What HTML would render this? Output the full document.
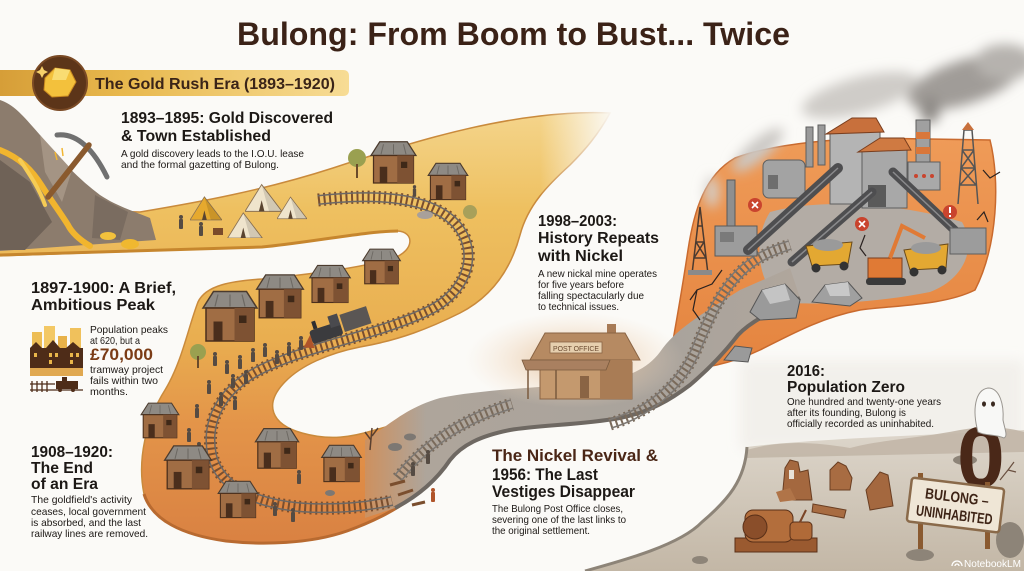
<!DOCTYPE html>
<html><head><meta charset="utf-8"><style>
html,body{margin:0;padding:0;background:#fbfaf7;}
svg{display:block;}
text{font-family:"Liberation Sans",sans-serif;}
</style></head><body>
<svg width="1024" height="571" viewBox="0 0 1024 571" xmlns="http://www.w3.org/2000/svg">
<defs>
<linearGradient id="gRib" gradientUnits="userSpaceOnUse" x1="0" y1="115" x2="0" y2="545">
<stop offset="0" stop-color="#f4d48a"/><stop offset="0.22" stop-color="#eec060"/><stop offset="0.52" stop-color="#e9ae50"/><stop offset="0.72" stop-color="#e39449"/><stop offset="1" stop-color="#d98142"/></linearGradient>
<linearGradient id="gFade" x1="0" y1="0" x2="1" y2="0"><stop offset="0" stop-color="#fbfaf7" stop-opacity="0"/><stop offset="1" stop-color="#fbfaf7" stop-opacity="1"/></linearGradient>
<linearGradient id="gGray" gradientUnits="userSpaceOnUse" x1="360" y1="0" x2="800" y2="0"><stop offset="0" stop-color="#d08f5a"/><stop offset="0.15" stop-color="#aea59b"/><stop offset="0.7" stop-color="#a9a39c"/><stop offset="1" stop-color="#b0a69c"/></linearGradient>
<linearGradient id="gPlat" x1="0" y1="0" x2="0" y2="1"><stop offset="0" stop-color="#ef9b58"/><stop offset="1" stop-color="#e4843f"/></linearGradient>
<linearGradient id="gWaste" gradientUnits="userSpaceOnUse" x1="0" y1="430" x2="0" y2="571"><stop offset="0" stop-color="#ddd6cb"/><stop offset="1" stop-color="#c3b7a6"/></linearGradient>
<linearGradient id="gBan" x1="0" y1="0" x2="1" y2="0"><stop offset="0" stop-color="#d69e38"/><stop offset="0.35" stop-color="#e8b84d"/><stop offset="1" stop-color="#f7dc95"/></linearGradient>
<radialGradient id="gHaze"><stop offset="0" stop-color="#e2b98e" stop-opacity="0.9"/><stop offset="1" stop-color="#f3dcc4" stop-opacity="0"/></radialGradient>
<filter id="blur6" x="-50%" y="-50%" width="200%" height="200%"><feGaussianBlur stdDeviation="6"/></filter>
<filter id="blur3" x="-50%" y="-50%" width="200%" height="200%"><feGaussianBlur stdDeviation="3"/></filter>
<symbol id="house" viewBox="0 0 40 40">
<polygon points="2,14 9,3 31,3 38,14" fill="#8e8a84" stroke="#4b3b2e" stroke-width="1"/>
<line x1="12" y1="5" x2="10" y2="13" stroke="#6c6862" stroke-width="0.8"/><line x1="20" y1="5" x2="20" y2="13" stroke="#6c6862" stroke-width="0.8"/><line x1="28" y1="5" x2="30" y2="13" stroke="#6c6862" stroke-width="0.8"/>
<rect x="4" y="14" width="32" height="22" fill="#a06d44" stroke="#4b2f1c"/>
<rect x="23" y="14" width="13" height="22" fill="#7e5233"/>
<rect x="9" y="23" width="6" height="13" fill="#4a2e1c"/>
<rect x="26" y="19" width="5" height="5" fill="#3e2818"/>
</symbol>
<symbol id="tent" viewBox="0 0 40 30">
<polygon points="0,30 18,1 40,30" fill="currentColor" stroke="#8c7355" stroke-width="1"/>
<polygon points="18,1 40,30 26,30" fill="#000" fill-opacity="0.12"/>
<polygon points="15,30 18,18 21,30" fill="#5a4430"/>
</symbol>
<symbol id="per" viewBox="0 0 6 14"><circle cx="3" cy="2" r="2"/><rect x="1" y="4" width="4" height="10" rx="1"/></symbol>
<path id="r1" d="M 318,200 C 380,193 432,198 456,224 C 480,252 468,292 428,311 C 380,334 318,344 268,366 C 222,386 205,420 212,455 C 220,490 262,506 312,508 C 345,509 370,506 392,501"/>
<path id="r2" d="M 398,478 C 425,445 460,420 512,404"/>
<path id="r3" d="M 610,424 C 650,412 680,385 695,352 C 708,320 720,290 745,268 C 760,255 775,250 790,245"/>
<mask id="m1" maskUnits="userSpaceOnUse" x="0" y="0" width="1024" height="571"><rect width="1024" height="571" fill="#000"/><use href="#r1" fill="none" stroke="#fff" stroke-width="10"/><use href="#r1" fill="none" stroke="#000" stroke-width="7"/></mask>
<mask id="m2" maskUnits="userSpaceOnUse" x="0" y="0" width="1024" height="571"><rect width="1024" height="571" fill="#000"/><use href="#r2" fill="none" stroke="#fff" stroke-width="10"/><use href="#r2" fill="none" stroke="#000" stroke-width="7"/></mask>
<mask id="m3" maskUnits="userSpaceOnUse" x="0" y="0" width="1024" height="571"><rect width="1024" height="571" fill="#000"/><use href="#r3" fill="none" stroke="#fff" stroke-width="10"/><use href="#r3" fill="none" stroke="#000" stroke-width="7"/></mask>
</defs>

<rect width="1024" height="571" fill="#fbfaf7"/>

<!-- Title -->
<text x="237" y="45" font-size="32" font-weight="bold" fill="#3b2217" textLength="553" lengthAdjust="spacingAndGlyphs">Bulong: From Boom to Bust... Twice</text>

<!-- wasteland background haze -->
<rect x="740" y="360" width="284" height="90" fill="#efece7" filter="url(#blur6)" opacity="0.7"/>

<!-- Ribbon gold/orange -->
<path d="M -5,208 L 140,212 C 200,202 265,190 333,168 C 400,146 470,124 540,116 C 565,113 590,112 610,113 C 598,135 585,150 570,165 C 548,185 528,205 520,235 C 512,265 495,295 460,313 C 430,328 400,340 360,347 C 330,353 300,365 283,384 C 265,404 270,424 302,433 C 330,441 352,437 375,430 L 400,423 L 425,488 C 398,510 372,522 347,531 C 310,544 262,545 226,541 C 182,535 152,520 144,494 C 137,460 146,420 165,390 C 182,362 188,328 198,302 C 206,285 232,281 262,279 C 312,274 360,268 394,258 C 415,250 414,232 398,231 C 368,231 305,243 262,247 L -5,256 Z" fill="url(#gRib)" stroke="#c98a3c" stroke-width="1.5"/>
<path d="M 0,255 L 262,247 C 305,243 368,231 398,231" fill="none" stroke="#c6862e" stroke-width="3"/>
<path d="M 144,494 C 152,520 182,535 226,541 C 262,545 310,544 347,531 C 372,522 398,510 425,488" fill="none" stroke="#b86a30" stroke-width="3"/>
<rect x="540" y="100" width="75" height="110" fill="url(#gFade)"/>

<!-- Plateau -->
<path d="M 668,368 C 675,330 682,290 688,250 C 694,210 705,175 735,158 C 770,145 820,140 870,138 L 990,140 C 1000,180 998,245 975,290 C 945,305 900,305 860,310 C 820,318 790,335 760,350 C 735,362 700,372 668,368 Z" fill="url(#gPlat)" stroke="#c96a2e" stroke-width="1.5"/>
<path d="M 770,212 C 820,198 900,203 962,222 C 978,250 962,280 930,292 C 880,302 820,306 780,302 C 758,282 752,240 770,212 Z" fill="#b3aca5"/>

<!-- Gray ribbon -->
<path d="M 365,440 C 390,425 405,408 440,398 C 480,390 530,388 580,384 C 620,381 645,372 660,352 C 675,330 700,315 740,290 L 790,268 L 800,298 C 770,312 750,322 738,335 C 725,352 710,368 690,385 C 670,400 650,412 620,418 C 580,425 540,425 510,430 C 480,436 462,445 450,460 C 438,478 420,495 395,508 L 365,518 Z" fill="url(#gGray)"/>
<path d="M 800,298 C 770,312 750,322 738,335 C 725,352 710,368 690,385 C 670,400 650,412 620,418 C 580,425 540,425 510,430 C 480,436 462,445 450,460 C 438,478 420,495 395,508" fill="none" stroke="#6e6862" stroke-width="4"/>

<!-- Post office haze & building -->
<ellipse cx="575" cy="360" rx="110" ry="48" fill="url(#gHaze)"/>
<g>
<rect x="607" y="324" width="9" height="12" fill="#a77a55"/>
<polygon points="530,360 545,333 625,333 640,360" fill="#b68a62" stroke="#8a6444" stroke-width="1"/>
<rect x="550" y="342" width="52" height="11" fill="#e6cfae" stroke="#8a6444" stroke-width="0.8"/>
<text x="553" y="351" font-size="7.5" fill="#6a4a30" textLength="46" lengthAdjust="spacingAndGlyphs">POST OFFICE</text>
<rect x="540" y="362" width="92" height="37" fill="#c4996e" stroke="#8a6444" stroke-width="1"/>
<rect x="600" y="360" width="32" height="39" fill="#a97c55"/>
<polygon points="522,360 610,360 606,370 526,370" fill="#a98060" stroke="#7a5a3e" stroke-width="0.8"/>
<rect x="580" y="376" width="9" height="22" fill="#8a6444"/>
<line x1="528" y1="370" x2="528" y2="399" stroke="#7a5a3e" stroke-width="1.5"/>
<line x1="556" y1="370" x2="556" y2="399" stroke="#7a5a3e" stroke-width="1.5"/>
</g>

<!-- Rails -->
<use href="#r1" fill="none" stroke="#7a4e2e" stroke-width="13" stroke-dasharray="2 3.5"/>
<rect width="1024" height="571" fill="#6c6865" mask="url(#m1)"/>
<use href="#r2" fill="none" stroke="#7a6a5a" stroke-width="13" stroke-dasharray="2 3.5"/>
<rect width="1024" height="571" fill="#7d7873" mask="url(#m2)"/>
<use href="#r3" fill="none" stroke="#7a6a5a" stroke-width="13" stroke-dasharray="2 3.5"/>
<rect width="1024" height="571" fill="#7d7873" mask="url(#m3)"/>

<!-- Mountain -->
<path d="M 0,100 C 15,105 25,118 40,135 C 60,160 80,180 100,195 C 115,205 130,210 150,218 L 156,240 L 0,251 Z" fill="#8c7c6d"/>
<polygon points="0,160 30,182 52,222 25,250 0,250" fill="#6f6257"/>
<polygon points="40,135 72,170 62,202 45,172" fill="#a49484"/>
<polygon points="95,195 128,212 120,240 92,238" fill="#7a6c60"/>
<path d="M 0,150 C 20,158 32,170 42,186 C 52,202 60,212 68,225 C 72,233 80,240 90,246" fill="none" stroke="#f1b52e" stroke-width="6" stroke-linecap="round"/>
<path d="M 20,160 C 30,175 40,190 45,205" fill="none" stroke="#f6cc55" stroke-width="4" stroke-linecap="round"/>
<ellipse cx="108" cy="236" rx="8" ry="4" fill="#f2c13c"/>
<ellipse cx="130" cy="244" rx="9" ry="5" fill="#f0b830"/>
<path d="M 57,135 Q 85,132 107,177" fill="none" stroke="#707070" stroke-width="5" stroke-linecap="round"/>
<line x1="48" y1="197" x2="89" y2="145" stroke="#8a5a2e" stroke-width="5.5" stroke-linecap="round"/>
<line x1="55" y1="152" x2="57" y2="160" stroke="#f2b632" stroke-width="1.5"/><line x1="62" y1="148" x2="63" y2="156" stroke="#f2b632" stroke-width="1.5"/>

<!-- Upper band village -->
<g color="#e6a92e"><use href="#tent" x="190" y="193" width="32" height="30"/></g>
<g color="#efe4cc"><use href="#tent" x="245" y="183" width="37" height="29"/><use href="#tent" x="227" y="212" width="36" height="26"/><use href="#tent" x="277" y="195" width="30" height="25"/></g>
<rect x="213" y="228" width="10" height="7" fill="#7a4a2a"/>
<circle cx="357" cy="158" r="9" fill="#9aa050"/><rect x="356" y="164" width="2" height="14" fill="#6a4a2a"/>
<use href="#house" x="367" y="138" width="53" height="50"/>
<use href="#house" x="423" y="160" width="50" height="44"/>
<g fill="#554b43"><use href="#per" x="178" y="215" width="6" height="14"/><use href="#per" x="198" y="222" width="6" height="14"/><use href="#per" x="412" y="185" width="5" height="12"/></g>
<circle cx="470" cy="212" r="7" fill="#a8a05a"/>
<ellipse cx="425" cy="215" rx="8" ry="4" fill="#a8a09a"/>

<!-- Middle band village -->
<use href="#house" x="200" y="286" width="60" height="62"/>
<use href="#house" x="252" y="271" width="56" height="52"/>
<use href="#house" x="307" y="262" width="46" height="45"/>
<use href="#house" x="359" y="246" width="45" height="42"/>
<circle cx="198" cy="352" r="8" fill="#9aa050"/><rect x="197" y="356" width="2" height="12" fill="#6a4a2a"/>
<!-- train -->
<g transform="rotate(-18 338 330)">
<rect x="310" y="322" width="32" height="14" rx="3" fill="#3b3b3e"/>
<rect x="332" y="314" width="10" height="12" fill="#4a4a4e"/>
<rect x="344" y="316" width="28" height="18" fill="#5a5654"/>
<rect x="315" y="314" width="4" height="8" fill="#2e2e30"/>
<polygon points="300,336 310,326 310,340" fill="#b0542a"/>
</g>
<g fill="#554b43">
<use href="#per" x="212" y="352" width="6" height="14"/><use href="#per" x="224" y="360" width="6" height="14"/><use href="#per" x="237" y="355" width="6" height="14"/><use href="#per" x="250" y="348" width="6" height="14"/><use href="#per" x="262" y="343" width="6" height="14"/><use href="#per" x="274" y="350" width="6" height="14"/><use href="#per" x="286" y="342" width="6" height="14"/><use href="#per" x="298" y="336" width="6" height="14"/>
<use href="#per" x="230" y="374" width="6" height="14"/><use href="#per" x="243" y="370" width="6" height="14"/><use href="#per" x="206" y="380" width="6" height="14"/><use href="#per" x="218" y="392" width="6" height="14"/><use href="#per" x="232" y="396" width="6" height="14"/>
<use href="#per" x="194" y="404" width="6" height="14"/><use href="#per" x="186" y="428" width="6" height="14"/><use href="#per" x="196" y="442" width="6" height="14"/><use href="#per" x="188" y="462" width="6" height="14"/>
<use href="#per" x="272" y="502" width="6" height="14"/><use href="#per" x="290" y="508" width="6" height="14"/><use href="#per" x="296" y="470" width="6" height="14"/>
<use href="#per" x="410" y="462" width="6" height="14"/><use href="#per" x="425" y="450" width="6" height="14"/>
</g>
<use href="#per" x="430" y="488" width="6" height="14" fill="#b0542a"/>
<!-- bottom-left houses -->
<use href="#house" x="139" y="395" width="42" height="52"/>
<use href="#house" x="162" y="442" width="52" height="52"/>
<use href="#house" x="213" y="478" width="50" height="44"/>
<use href="#house" x="253" y="424" width="48" height="50"/>
<use href="#house" x="319" y="442" width="45" height="44"/>
<path d="M 370,450 L 372,428 M 372,436 L 378,428 M 371,440 L 365,432" stroke="#5a4030" stroke-width="1.5" fill="none"/>
<g fill="#7d7873"><ellipse cx="395" cy="447" rx="7" ry="4"/><ellipse cx="410" cy="437" rx="6" ry="3.5"/><ellipse cx="330" cy="493" rx="5" ry="3"/></g>
<g stroke="#7a4e2e" stroke-width="3"><line x1="390" y1="485" x2="405" y2="481"/><line x1="398" y1="495" x2="413" y2="490"/><line x1="412" y1="505" x2="425" y2="502"/></g>

<!-- Smoke -->
<g filter="url(#blur6)">
<ellipse cx="860" cy="95" rx="60" ry="18" transform="rotate(-15 860 95)" fill="#cfccc8"/>
<ellipse cx="965" cy="82" rx="60" ry="22" transform="rotate(-18 965 82)" fill="#a09c98"/>
<ellipse cx="1005" cy="62" rx="30" ry="18" fill="#b6b2ae"/>
<ellipse cx="758" cy="150" rx="32" ry="10" transform="rotate(-40 758 150)" fill="#cbc8c4"/>
<ellipse cx="712" cy="192" rx="7" ry="16" fill="#d3d0cc"/>
<ellipse cx="930" cy="110" rx="10" ry="14" fill="#8e8a86"/>
</g>

<!-- Industrial -->
<g>
<!-- derrick -->
<g stroke="#4a3a30" stroke-width="1.5" fill="none"><path d="M 692,274 L 700,207 L 708,274 M 694,258 L 706,258 M 696,242 L 704,242 M 698,226 L 702,226 M 694,258 L 704,242 M 706,258 L 696,242"/></g>
<rect x="688" y="270" width="24" height="5" fill="#8a8a8a"/>
<!-- left machine -->
<rect x="727" y="180" width="8" height="50" fill="#8f8f8f" stroke="#5a5a5a"/>
<rect x="715" y="226" width="42" height="30" fill="#9c9c9c" stroke="#5a5a5a"/>
<rect x="720" y="232" width="14" height="10" fill="#7a7a7a"/>
<!-- left gray building -->
<rect x="763" y="160" width="42" height="38" rx="6" fill="#a3a3a3" stroke="#5e5e5e"/>
<rect x="768" y="175" width="10" height="14" fill="#6e6e6e"/>
<rect x="806" y="127" width="7" height="40" fill="#9a9a9a" stroke="#5e5e5e"/>
<rect x="818" y="125" width="7" height="40" fill="#9a9a9a" stroke="#5e5e5e"/>
<!-- main building -->
<rect x="830" y="132" width="50" height="72" fill="#b4b4b4" stroke="#5e5e5e"/>
<polygon points="826,134 852,118 876,118 884,132" fill="#c8703c" stroke="#7a3e1e"/>
<rect x="862" y="150" width="45" height="58" fill="#a8a8a8" stroke="#5e5e5e"/>
<polygon points="858,152 880,138 904,138 911,150" fill="#cf7a42" stroke="#7a3e1e"/>
<rect x="868" y="185" width="18" height="22" fill="#5a5a5a"/>
<!-- orange striped chimney -->
<rect x="916" y="120" width="14" height="48" fill="#a0a0a0" stroke="#5e5e5e"/>
<rect x="916" y="132" width="14" height="7" fill="#d9773a"/><rect x="916" y="147" width="14" height="7" fill="#d9773a"/>
<rect x="908" y="162" width="32" height="28" fill="#a9a9a9" stroke="#5e5e5e"/>
<circle cx="916" cy="176" r="2" fill="#c9442e"/><circle cx="924" cy="176" r="2" fill="#c9442e"/><circle cx="932" cy="176" r="2" fill="#c9442e"/>
<!-- tower -->
<g stroke="#555" stroke-width="1.5" fill="none"><path d="M 958,204 L 964,130 L 972,130 L 978,204 M 960,185 L 976,185 M 961,168 L 975,168 M 962,150 L 974,150 M 960,185 L 975,168 M 976,185 L 961,168 M 961,168 L 974,150 M 975,168 L 962,150"/></g>
<polygon points="962,130 968,122 974,130" fill="#c8703c"/>
<!-- conveyors -->
<g stroke="#4e4e50" stroke-linecap="round"><line x1="748" y1="250" x2="838" y2="168" stroke-width="10"/><line x1="792" y1="262" x2="872" y2="192" stroke-width="9"/><line x1="893" y1="172" x2="965" y2="240" stroke-width="9"/></g>
<g stroke="#8a8a8c" stroke-width="1.5"><line x1="748" y1="250" x2="838" y2="168"/><line x1="792" y1="262" x2="872" y2="192"/><line x1="893" y1="172" x2="965" y2="240"/></g>
<rect x="950" y="228" width="36" height="26" fill="#9c9c9c" stroke="#5e5e5e"/>
<!-- trucks -->
<polygon points="806,246 852,242 848,264 812,266" fill="#e3a832" stroke="#6a4a1a"/>
<ellipse cx="828" cy="245" rx="15" ry="6" fill="#9a9a9a"/>
<circle cx="816" cy="268" r="4.5" fill="#333"/><circle cx="844" cy="266" r="4.5" fill="#333"/>
<polygon points="904,250 948,244 946,268 910,270" fill="#e3a832" stroke="#6a4a1a"/>
<ellipse cx="926" cy="248" rx="15" ry="6" fill="#9a9a9a"/>
<circle cx="914" cy="272" r="4.5" fill="#333"/><circle cx="942" cy="270" r="4.5" fill="#333"/>
<!-- excavator -->
<rect x="868" y="258" width="34" height="20" fill="#e07a35" stroke="#7a3e1e"/>
<rect x="866" y="278" width="40" height="7" rx="3" fill="#3a3a3a"/>
<path d="M 890,258 L 902,226 L 925,238" fill="none" stroke="#e07a35" stroke-width="4"/>
<!-- rocks -->
<polygon points="750,312 762,290 785,284 800,300 796,318 760,320" fill="#9a9a9a" stroke="#555"/>
<polygon points="762,290 785,284 790,300 770,304" fill="#c4c4c4"/>
<polygon points="812,302 825,285 848,282 862,298 850,306" fill="#a0a0a0" stroke="#555"/>
<polygon points="825,285 848,282 850,296 830,296" fill="#c8c8c8"/>
<polygon points="724,360 735,346 752,348 748,362" fill="#9a9a9a" stroke="#555"/>
<!-- markers -->
<circle cx="755" cy="205" r="7" fill="#c9442e"/><path d="M 752,202 L 758,208 M 758,202 L 752,208" stroke="#fff" stroke-width="1.6"/>
<circle cx="862" cy="224" r="7" fill="#c9442e"/><path d="M 859,221 L 865,227 M 865,221 L 859,227" stroke="#fff" stroke-width="1.6"/>
<circle cx="950" cy="212" r="7" fill="#c9442e"/><rect x="949" y="207" width="2" height="6" fill="#fff"/><rect x="949" y="215" width="2" height="2" fill="#fff"/>
<!-- cracks -->
<g stroke="#2a2220" stroke-width="1.2" fill="none"><path d="M 690,300 L 697,290 L 712,284 L 722,270"/><path d="M 697,290 L 693,310 L 700,320"/><path d="M 983,170 L 990,178 L 1000,172"/><path d="M 977,220 L 984,212 L 988,222"/><path d="M 865,235 L 860,248 L 866,256"/></g>
</g>

<!-- Wasteland -->
<path d="M 747,447 C 800,440 900,436 1024,430 L 1024,571 L 585,571 C 625,560 680,545 702,522 C 728,500 745,480 747,447 Z" fill="url(#gWaste)"/>
<path d="M 747,450 C 780,440 815,442 850,448 C 880,440 920,438 960,430 C 990,425 1010,428 1024,432 L 1024,452 L 747,458 Z" fill="#c2b6a7" opacity="0.9"/>
<path d="M 747,447 C 745,480 728,500 702,522 C 680,545 625,560 585,571" fill="none" stroke="#8d8478" stroke-width="3"/>
<!-- ruins -->
<polygon points="785,468 790,460 798,462 800,472 808,470 812,500 782,500" fill="#a4683f" stroke="#6a3e22"/>
<rect x="789" y="470" width="5" height="9" fill="#e8e2d8"/>
<polygon points="830,470 838,462 846,466 852,478 850,490 830,490" fill="#a86c42" stroke="#6a3e22"/>
<polygon points="866,490 880,472 888,475 893,506 870,510" fill="#a4683f" stroke="#6a3e22"/>
<polygon points="813,504 846,510 844,518 812,512" fill="#a86c42" stroke="#6a3e22"/>
<polygon points="776,492 790,488 796,500 780,502" fill="#b07448"/>
<!-- machine -->
<rect x="735" y="538" width="82" height="14" fill="#9a5a30" stroke="#5a3018"/>
<rect x="745" y="510" width="48" height="32" rx="8" fill="#b36e3c" stroke="#5a3018"/>
<circle cx="755" cy="527" r="12" fill="#8a4e2a" stroke="#5a3018"/>
<rect x="790" y="522" width="22" height="18" rx="4" fill="#b06a38" stroke="#5a3018"/>
<line x1="800" y1="522" x2="806" y2="510" stroke="#7a4426" stroke-width="2"/>
<g fill="#8d8478"><ellipse cx="920" cy="555" rx="14" ry="6"/><ellipse cx="965" cy="460" rx="12" ry="5"/><ellipse cx="700" cy="560" rx="8" ry="4"/><ellipse cx="1010" cy="540" rx="14" ry="18"/></g>

<!-- Zero, ghost, sign -->
<text x="957" y="487" font-size="86" font-weight="bold" fill="#4a2818">0</text>
<path d="M 978,432 C 972,410 975,390 988,388 C 1000,388 1004,405 1003,420 C 1005,430 1008,436 1004,438 C 995,434 985,436 978,432 Z" fill="#f8f8f6" stroke="#9a9690" stroke-width="1"/>
<ellipse cx="984" cy="404" rx="2" ry="2.6" fill="#3a2a20"/><ellipse cx="993" cy="404" rx="2" ry="2.6" fill="#3a2a20"/>
<rect x="918" y="473" width="5" height="76" fill="#8a5a30"/>
<rect x="985" y="482" width="5" height="67" fill="#8a5a30"/>
<g transform="rotate(7 955 505)">
<rect x="909" y="483" width="93" height="44" rx="3" fill="#efe6d6" stroke="#8a6a4a" stroke-width="2.5"/>
<text x="924" y="502" font-size="15" font-weight="bold" fill="#3e2416" textLength="64" lengthAdjust="spacingAndGlyphs">BULONG –</text>
<text x="917" y="520" font-size="15" font-weight="bold" fill="#3e2416" textLength="77" lengthAdjust="spacingAndGlyphs">UNINHABITED</text>
</g>
<path d="M 1000,480 L 1008,470 L 1014,462 M 1008,470 L 1016,472" stroke="#6a5040" stroke-width="1.2" fill="none"/>

<!-- Watermark -->
<path d="M 952,566 A 5,5 0 0 1 962,566 M 955,566 A 2,2 0 0 1 959,566" stroke="#ffffff" stroke-width="1.3" fill="none"/>
<text x="964" y="567" font-size="10.5" fill="#ffffff" textLength="57" lengthAdjust="spacingAndGlyphs">NotebookLM</text>

<!-- Banner -->
<path d="M 0,70 L 343,70 Q 349,70 349,76 L 349,90 Q 349,96 343,96 L 0,96 Z" fill="url(#gBan)"/>
<circle cx="60" cy="83" r="27" fill="#5c3519" stroke="#7a4a25" stroke-width="2"/>
<polygon points="45,78 55,68 70,70 76,82 68,96 52,97 44,90" fill="#f3c13c" stroke="#c98a20" stroke-width="1"/>
<polygon points="55,68 70,70 66,80 52,80" fill="#f9dc72"/>
<path d="M 42,66 l 2,4 l 4,2 l -4,2 l -2,4 l -2,-4 l -4,-2 l 4,-2 Z" fill="#f6d06a"/>
<text x="95" y="89" font-size="15.5" font-weight="bold" fill="#3a2418" textLength="240" lengthAdjust="spacingAndGlyphs">The Gold Rush Era (1893–1920)</text>

<!-- Texts -->
<g fill="#1c1815">
<text x="121" y="123" font-size="15.5" font-weight="bold" textLength="212" lengthAdjust="spacingAndGlyphs">1893–1895: Gold Discovered</text>
<text x="121" y="141" font-size="15.5" font-weight="bold" textLength="150" lengthAdjust="spacingAndGlyphs">&amp; Town Established</text>
<text x="121" y="157" font-size="10.5" textLength="183" lengthAdjust="spacingAndGlyphs">A gold discovery leads to the I.O.U. lease</text>
<text x="121" y="168" font-size="10.5" textLength="158" lengthAdjust="spacingAndGlyphs">and the formal gazetting of Bulong.</text>

<text x="31" y="293" font-size="16" font-weight="bold" textLength="145" lengthAdjust="spacingAndGlyphs">1897-1900: A Brief,</text>
<text x="31" y="310" font-size="16" font-weight="bold" textLength="124" lengthAdjust="spacingAndGlyphs">Ambitious Peak</text>
<text x="90" y="333" font-size="10.5" textLength="78" lengthAdjust="spacingAndGlyphs">Population peaks</text>
<text x="90" y="344" font-size="10.5" textLength="50" lengthAdjust="spacingAndGlyphs">at 620, but a</text>
<text x="90" y="373" font-size="10.5" textLength="73" lengthAdjust="spacingAndGlyphs">tramway project</text>
<text x="90" y="384" font-size="10.5" textLength="68" lengthAdjust="spacingAndGlyphs">fails within two</text>
<text x="90" y="395" font-size="10.5" textLength="38" lengthAdjust="spacingAndGlyphs">months.</text>

<text x="31" y="457" font-size="16" font-weight="bold" textLength="82" lengthAdjust="spacingAndGlyphs">1908–1920:</text>
<text x="31" y="473" font-size="16" font-weight="bold" textLength="62" lengthAdjust="spacingAndGlyphs">The End</text>
<text x="31" y="489" font-size="16" font-weight="bold" textLength="67" lengthAdjust="spacingAndGlyphs">of an Era</text>
<text x="31" y="503" font-size="10.5" textLength="101" lengthAdjust="spacingAndGlyphs">The goldfield's activity</text>
<text x="31" y="515" font-size="10.5" textLength="115" lengthAdjust="spacingAndGlyphs">ceases, local government</text>
<text x="31" y="526" font-size="10.5" textLength="110" lengthAdjust="spacingAndGlyphs">is absorbed, and the last</text>
<text x="31" y="537" font-size="10.5" textLength="117" lengthAdjust="spacingAndGlyphs">railway lines are removed.</text>

<text x="538" y="226" font-size="16" font-weight="bold" textLength="79" lengthAdjust="spacingAndGlyphs">1998–2003:</text>
<text x="538" y="243" font-size="16" font-weight="bold" textLength="121" lengthAdjust="spacingAndGlyphs">History Repeats</text>
<text x="538" y="261" font-size="16" font-weight="bold" textLength="85" lengthAdjust="spacingAndGlyphs">with Nickel</text>
<text x="538" y="277" font-size="10.5" textLength="119" lengthAdjust="spacingAndGlyphs">A new nickal mine operates</text>
<text x="538" y="288" font-size="10.5" textLength="86" lengthAdjust="spacingAndGlyphs">for five years before</text>
<text x="538" y="299" font-size="10.5" textLength="106" lengthAdjust="spacingAndGlyphs">falling spectacularly due</text>
<text x="538" y="310" font-size="10.5" textLength="81" lengthAdjust="spacingAndGlyphs">to technical issues.</text>

<text x="787" y="376" font-size="16" font-weight="bold" textLength="38" lengthAdjust="spacingAndGlyphs">2016:</text>
<text x="787" y="392" font-size="16" font-weight="bold" textLength="118" lengthAdjust="spacingAndGlyphs">Population Zero</text>
<text x="787" y="405" font-size="10.5" textLength="154" lengthAdjust="spacingAndGlyphs">One hundred and twenty-one years</text>
<text x="787" y="416" font-size="10.5" textLength="119" lengthAdjust="spacingAndGlyphs">after its founding, Bulong is</text>
<text x="787" y="427" font-size="10.5" textLength="147" lengthAdjust="spacingAndGlyphs">officially recorded as uninhabited.</text>

<text x="492" y="461" font-size="17" font-weight="bold" fill="#4a2616" textLength="166" lengthAdjust="spacingAndGlyphs">The Nickel Revival &amp;</text>
<text x="492" y="480" font-size="17" font-weight="bold" textLength="106" lengthAdjust="spacingAndGlyphs">1956: The Last</text>
<text x="492" y="497" font-size="17" font-weight="bold" textLength="143" lengthAdjust="spacingAndGlyphs">Vestiges Disappear</text>
<text x="492" y="512" font-size="10.5" textLength="131" lengthAdjust="spacingAndGlyphs">The Bulong Post Office closes,</text>
<text x="492" y="523" font-size="10.5" textLength="134" lengthAdjust="spacingAndGlyphs">severing one of the last links to</text>
<text x="492" y="534" font-size="10.5" textLength="98" lengthAdjust="spacingAndGlyphs">the original settlement.</text>
</g>
<text x="90" y="360" font-size="17" font-weight="bold" fill="#7b3c16" textLength="63" lengthAdjust="spacingAndGlyphs">£70,000</text>

<!-- City icon -->
<g>
<rect x="32" y="332" width="10" height="36" fill="#edbd55"/>
<rect x="44" y="326" width="11" height="42" fill="#f3c865"/>
<rect x="58" y="336" width="9" height="32" fill="#e8b24a"/>
<rect x="70" y="328" width="11" height="40" fill="#f0c15c"/>
<rect x="30" y="348" width="53" height="20" fill="#4e2c18"/>
<polygon points="30,348 36,342 42,348" fill="#4e2c18"/><polygon points="46,348 53,340 60,348" fill="#4e2c18"/><polygon points="66,348 73,342 80,348" fill="#4e2c18"/>
<g fill="#e9b64a"><rect x="34" y="353" width="3" height="4"/><rect x="49" y="353" width="3" height="4"/><rect x="55" y="353" width="3" height="4"/><rect x="70" y="353" width="3" height="4"/><rect x="76" y="353" width="3" height="4"/><rect x="49" y="360" width="3" height="4"/><rect x="70" y="360" width="3" height="4"/></g>
<rect x="30" y="368" width="53" height="8" fill="#e0a850"/>
<g stroke="#4e2c18" stroke-width="1.3"><line x1="30" y1="390" x2="83" y2="390"/><line x1="32" y1="381" x2="32" y2="392"/><line x1="37" y1="381" x2="37" y2="392"/><line x1="42" y1="381" x2="42" y2="392"/><line x1="47" y1="381" x2="47" y2="392"/><line x1="30" y1="384" x2="55" y2="384"/></g>
<rect x="56" y="381" width="22" height="8" fill="#4e2c18"/><rect x="62" y="377" width="5" height="5" fill="#4e2c18"/><circle cx="60" cy="390" r="2" fill="#4e2c18"/><circle cx="73" cy="390" r="2" fill="#4e2c18"/>
</g>
</svg>
</body></html>
